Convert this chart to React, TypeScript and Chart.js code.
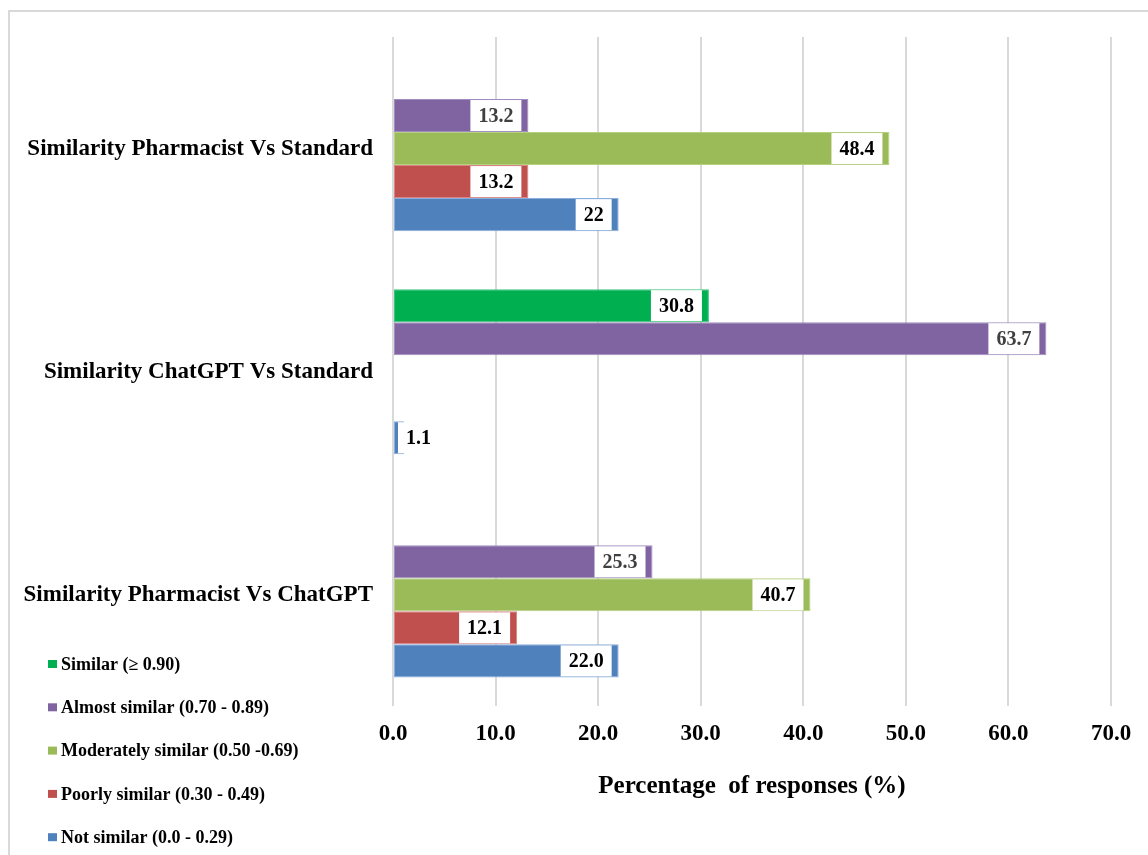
import React, { useEffect, useRef } from "react";
import { Chart, registerables } from "chart.js";

Chart.register(...registerables);

const categories = [
  "Similarity Pharmacist Vs Standard",
  "Similarity ChatGPT Vs Standard",
  "Similarity Pharmacist Vs ChatGPT",
];

const seriesNames = [
  "Similar (\u2265 0.90)",
  "Almost similar (0.70 - 0.89)",
  "Moderately similar (0.50 -0.69)",
  "Poorly similar (0.30 - 0.49)",
  "Not similar (0.0 - 0.29)",
];

const similar = [null, 30.8, null];
const almostSimilar = [13.2, 63.7, 25.3];
const moderatelySimilar = [48.4, null, 40.7];
const poorlySimilar = [13.2, null, 12.1];
const notSimilar = [22, 1.1, 22.0];

// label text as printed in the chart
const similarLabels = ["", "30.8", ""];
const almostLabels = ["13.2", "63.7", "25.3"];
const moderatelyLabels = ["48.4", "", "40.7"];
const poorlyLabels = ["13.2", "", "12.1"];
const notLabels = ["22", "1.1", "22.0"];

const xTicks = [0, 10, 20, 30, 40, 50, 60, 70];

const colors = ["#00B050", "#8064A2", "#9BBB59", "#C0504D", "#4F81BD"];
const borderColors = ["#3CC47A", "#A08CC0", "#B5D080", "#D98583", "#8AAEDC"];
const labelColors = ["#000000", "#404040", "#000000", "#000000", "#000000"];

const FONT = "'Liberation Serif', 'Times New Roman', serif";

const framePlugin = {
  id: "frame",
  beforeDraw(chart: any) {
    const ctx = chart.ctx;
    ctx.save();
    ctx.fillStyle = "#ffffff";
    ctx.fillRect(0, 0, chart.width, chart.height);
    ctx.strokeStyle = "#d9d9d9";
    ctx.lineWidth = 2;
    ctx.strokeRect(9, 11, chart.width + 20, chart.height + 20);
    ctx.restore();
  },
};

const valueLabelPlugin = {
  id: "valueLabels",
  afterDatasetsDraw(chart: any) {
    const ctx = chart.ctx;
    ctx.save();
    ctx.font = `bold 20px ${FONT}`;
    ctx.textBaseline = "middle";
    ctx.textAlign = "left";
    chart.data.datasets.forEach((ds: any, di: number) => {
      const meta = chart.getDatasetMeta(di);
      meta.data.forEach((bar: any, i: number) => {
        const v = ds.data[i];
        const text = ds.valueLabels[i];
        if (v === null || v === undefined || !text) return;
        const { x, y, base, height } = bar.getProps(["x", "y", "base", "height"], true);
        const tw = ctx.measureText(text).width;
        const pad = 8;
        const bw = tw + pad * 2;
        const bh = height - 2;
        let right = x - 7;
        let left = right - bw;
        if (left < base + 4) {
          left = base + 4;
          right = left + bw;
        }
        ctx.fillStyle = "#ffffff";
        ctx.fillRect(left, y - bh / 2, bw, bh);
        ctx.fillStyle = ds.labelColor;
        ctx.fillText(text, left + pad, y + 1);
      });
    });
    ctx.restore();
  },
};

const legendPlugin = {
  id: "customLegend",
  afterDraw(chart: any) {
    const ctx = chart.ctx;
    ctx.save();
    ctx.font = `bold 18px ${FONT}`;
    ctx.textBaseline = "middle";
    ctx.textAlign = "left";
    const startY = 664;
    const step = 43.3;
    chart.data.datasets.forEach((ds: any, i: number) => {
      const y = startY + i * step;
      ctx.fillStyle = ds.backgroundColor;
      ctx.fillRect(48, y - 4, 9, 8);
      ctx.fillStyle = "#000000";
      ctx.fillText(ds.label, 61, y + 1);
    });
    ctx.restore();
  },
};

export default function App() {
  const canvasRef = useRef<HTMLCanvasElement | null>(null);

  useEffect(() => {
    if (!canvasRef.current) return;
    const seriesData = [similar, almostSimilar, moderatelySimilar, poorlySimilar, notSimilar];
    const seriesLabels = [similarLabels, almostLabels, moderatelyLabels, poorlyLabels, notLabels];
    const chart = new Chart(canvasRef.current, {
      type: "bar",
      data: {
        labels: categories,
        datasets: seriesNames.map((name, i) => ({
          label: name,
          data: seriesData[i] as any,
          backgroundColor: colors[i],
          borderColor: borderColors[i],
          borderWidth: 1,
          borderSkipped: false,
          categoryPercentage: 0.74,
          barPercentage: 1,
          valueLabels: seriesLabels[i],
          labelColor: labelColors[i],
        })) as any,
      },
      options: {
        indexAxis: "y",
        animation: false,
        responsive: false,
        maintainAspectRatio: false,
        layout: { padding: { top: 37, right: 37, bottom: 53, left: 0 } },
        plugins: {
          legend: { display: false },
          tooltip: { enabled: false },
        },
        scales: {
          x: {
            min: 0,
            max: 70,
            afterBuildTicks(scale: any) {
              scale.ticks = xTicks.map((v) => ({ value: v }));
            },
            ticks: {
              stepSize: 10,
              padding: 14,
              color: "#000000",
              font: { family: FONT, size: 23, weight: "bold" },
              callback: (v: any) => Number(v).toFixed(1),
            },
            grid: { color: "#d9d9d9", lineWidth: 2, drawTicks: false },
            border: { display: false },
            title: {
              display: true,
              text: "Percentage  of responses (%)",
              color: "#000000",
              font: { family: FONT, size: 25, weight: "bold" },
              padding: { top: 10, bottom: 0 },
            },
          },
          y: {
            afterFit(scale: any) {
              scale.width = 393;
            },
            ticks: {
              padding: 20,
              color: "#000000",
              font: { family: FONT, size: 23, weight: "bold" },
            },
            grid: { display: false, drawTicks: false },
            border: { display: false },
          },
        },
      },
      plugins: [framePlugin, valueLabelPlugin, legendPlugin],
    });
    return () => chart.destroy();
  }, []);

  return (
    <div style={{ position: "absolute", left: 0, top: 0, width: 1148, height: 855 }}>
      <canvas ref={canvasRef} width={1148} height={855} style={{ width: 1148, height: 855, display: "block" }} />
    </div>
  );
}
